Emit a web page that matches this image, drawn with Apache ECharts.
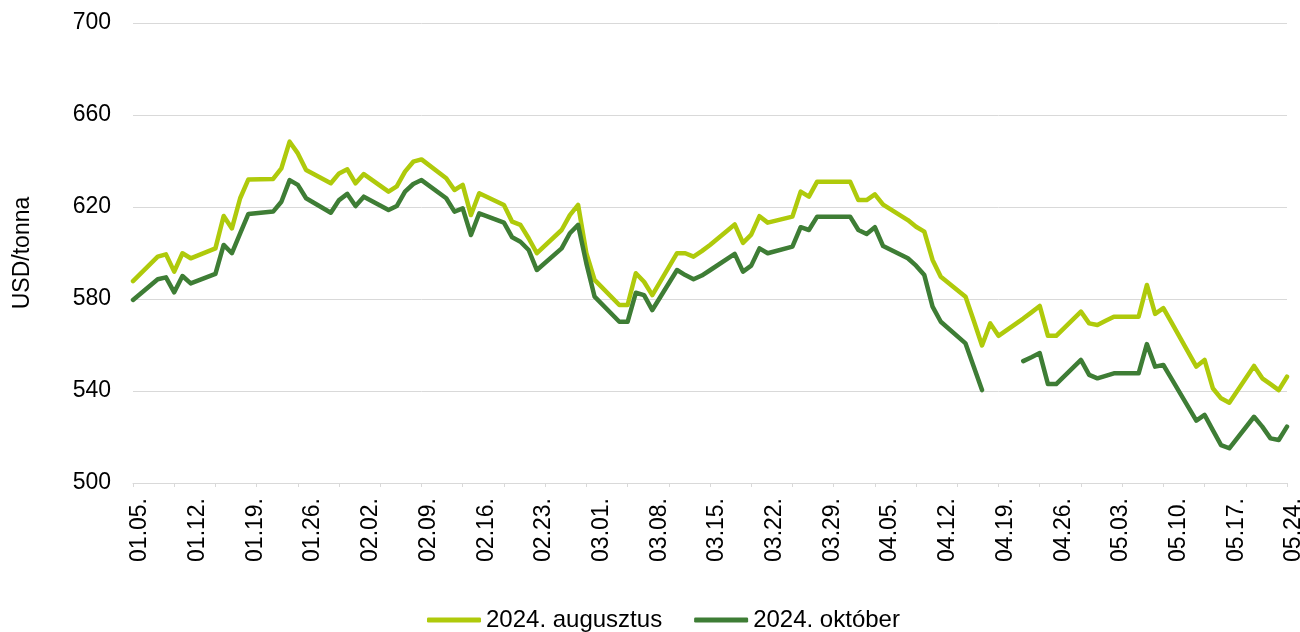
<!DOCTYPE html>
<html>
<head>
<meta charset="utf-8">
<script src="https://cdn.jsdelivr.net/npm/echarts@6/dist/echarts.min.js"></script>
<style>
  html, body { margin: 0; padding: 0; background: #fff; }
  #main { width: 1300px; height: 632px; }
</style>
</head>
<body>
<div id="main"></div>
<script>
// kereskedési napok (2024)
var tradeDays = [
  '01.05.', '01.08.', '01.09.', '01.10.', '01.11.', '01.12.', '01.15.', '01.16.', '01.17.', '01.18.',
  '01.19.', '01.22.', '01.23.', '01.24.', '01.25.', '01.26.', '01.29.', '01.30.', '01.31.', '02.01.',
  '02.02.', '02.05.', '02.06.', '02.07.', '02.08.', '02.09.', '02.12.', '02.13.', '02.14.', '02.15.',
  '02.16.', '02.19.', '02.20.', '02.21.', '02.22.', '02.23.', '02.26.', '02.27.', '02.28.', '02.29.',
  '03.01.', '03.04.', '03.05.', '03.06.', '03.07.', '03.08.', '03.11.', '03.12.', '03.13.', '03.14.',
  '03.15.', '03.18.', '03.19.', '03.20.', '03.21.', '03.22.', '03.25.', '03.26.', '03.27.', '03.28.',
  '03.29.', '04.01.', '04.02.', '04.03.', '04.04.', '04.05.', '04.08.', '04.09.', '04.10.', '04.11.',
  '04.12.', '04.15.', '04.16.', '04.17.', '04.18.', '04.19.', '04.22.', '04.23.', '04.24.', '04.25.',
  '04.26.', '04.29.', '04.30.', '05.01.', '05.02.', '05.03.', '05.06.', '05.07.', '05.08.', '05.09.',
  '05.10.', '05.13.', '05.14.', '05.15.', '05.16.', '05.17.', '05.20.', '05.21.', '05.22.', '05.23.',
  '05.24.'
];

// 2024. augusztus
var augusztus = [
  587.8, 598.4, 599.4, 591.9, 599.9, 597.7, 602.0, 616.1, 610.7, 623.8,
  632.0, 632.2, 636.8, 648.4, 643.3, 636.1, 630.3, 634.6, 636.4, 630.3,
  634.3, 626.7, 629.0, 635.4, 639.7, 640.7, 632.5, 627.4, 629.6, 616.5,
  626.0, 620.9, 613.6, 612.2, 606.4, 599.9, 610.0, 616.5, 620.9, 599.9,
  588.3, 577.4, 577.4, 591.2, 587.5, 581.7, 599.9, 599.9, 598.4, 600.8,
  603.5, 612.4, 604.4, 608.0, 616.0, 613.2, 615.8, 626.7, 624.5, 631.0,
  631.0, 631.0, 623.0, 623.0, 625.5, 621.0, 614.3, 611.4, 609.3, 597.0,
  589.7, 581.0, 570.5, 559.8, 569.4, 564.0, 571.5, 574.2, 577.0, 564.0,
  564.0, 574.5, 569.4, 568.7, 570.5, 572.3, 572.3, 586.1, 573.5, 576.0,
  569.7, 550.6, 553.5, 541.2, 536.8, 534.9, 550.9, 545.5, 543.0, 540.4,
  546.2
];

// 2024. október (04.18-04.19: nincs adat)
var oktober = [
  579.6, 588.6, 589.4, 582.9, 590.0, 586.8, 590.9, 603.5, 599.9, 608.5,
  617.0, 618.0, 622.3, 631.7, 629.6, 623.8, 617.5, 623.0, 625.7, 620.4,
  624.5, 618.7, 620.4, 626.7, 630.0, 631.7, 623.8, 618.0, 619.4, 607.8,
  617.2, 613.2, 606.8, 604.9, 601.3, 592.6, 602.0, 608.6, 612.2, 595.5,
  581.0, 570.1, 570.1, 582.7, 581.7, 575.2, 592.6, 590.4, 588.6, 590.2,
  592.5, 599.6, 591.9, 594.5, 602.0, 599.9, 602.8, 611.2, 610.0, 615.8,
  615.8, 615.8, 610.0, 608.3, 611.2, 603.0, 597.7, 594.5, 590.4, 576.7,
  570.1, 560.7, 550.5, 540.4, null, null, 553.0, 554.7, 556.5, 543.0,
  543.0, 553.5, 547.0, 545.5, 546.6, 547.7, 547.7, 560.4, 550.6, 551.3,
  545.3, 527.1, 529.6, 523.0, 516.5, 515.1, 528.8, 524.5, 519.4, 518.7,
  524.5
];

var yTicks = [500, 540, 580, 620, 660, 700];

// naptári napok a dátumtengelyhez (01.05. - 05.24.)
var calendarDays = [];
var d = new Date(2024, 0, 5);
var last = new Date(2024, 4, 24);
while (d <= last) {
  var mm = ('0' + (d.getMonth() + 1)).slice(-2);
  var dd = ('0' + d.getDate()).slice(-2);
  calendarDays.push(mm + '.' + dd + '.');
  d.setDate(d.getDate() + 1);
}

function pairs(values) {
  return tradeDays.map(function (day, i) {
    return [day, values[i] == null ? '-' : values[i]];
  });
}

var font = '"Liberation Sans", Arial, sans-serif';

var option = {
  animation: false,
  textStyle: { fontFamily: font },
  grid: { left: 133, right: 13, top: 23, bottom: 149, outerBoundsMode: 'none' },
  legend: {
    left: 422,
    top: 603,
    itemWidth: 54,
    itemHeight: 5,
    itemGap: 32,
    icon: 'roundRect',
    textStyle: { fontSize: 24, color: '#000', fontFamily: font },
    data: ['2024. augusztus', '2024. október']
  },
  xAxis: {
    type: 'category',
    boundaryGap: false,
    data: calendarDays,
    axisLine: { lineStyle: { color: '#d9d9d9', width: 1 } },
    axisTick: { interval: 4, length: 4, lineStyle: { color: '#d9d9d9' } },
    axisLabel: {
      interval: 6,
      rotate: 90,
      margin: 15,
      fontSize: 23,
      color: '#000',
      fontFamily: font,
      verticalAlign: 'top',
      lineHeight: 14
    },
    splitLine: { show: false }
  },
  yAxis: {
    type: 'value',
    min: yTicks[0],
    max: yTicks[yTicks.length - 1],
    interval: yTicks[1] - yTicks[0],
    name: 'USD/tonna',
    nameLocation: 'middle',
    nameGap: 99,
    nameTextStyle: { fontSize: 23, color: '#000', fontFamily: font },
    axisLine: { show: false },
    axisTick: { show: false },
    axisLabel: { margin: 22, fontSize: 23, color: '#000', fontFamily: font },
    splitLine: { lineStyle: { color: '#d9d9d9', width: 1 } }
  },
  series: [
    {
      name: '2024. augusztus',
      type: 'line',
      symbol: 'none',
      data: pairs(augusztus),
      itemStyle: { color: '#AFCA0B' },
      lineStyle: { color: '#AFCA0B', width: 4.5, cap: 'round', join: 'round' }
    },
    {
      name: '2024. október',
      type: 'line',
      symbol: 'none',
      data: pairs(oktober),
      itemStyle: { color: '#3E7D35' },
      lineStyle: { color: '#3E7D35', width: 4.5, cap: 'round', join: 'round' }
    }
  ]
};

var myChart = echarts.init(document.getElementById('main'));
myChart.setOption(option);
</script>
</body>
</html>
